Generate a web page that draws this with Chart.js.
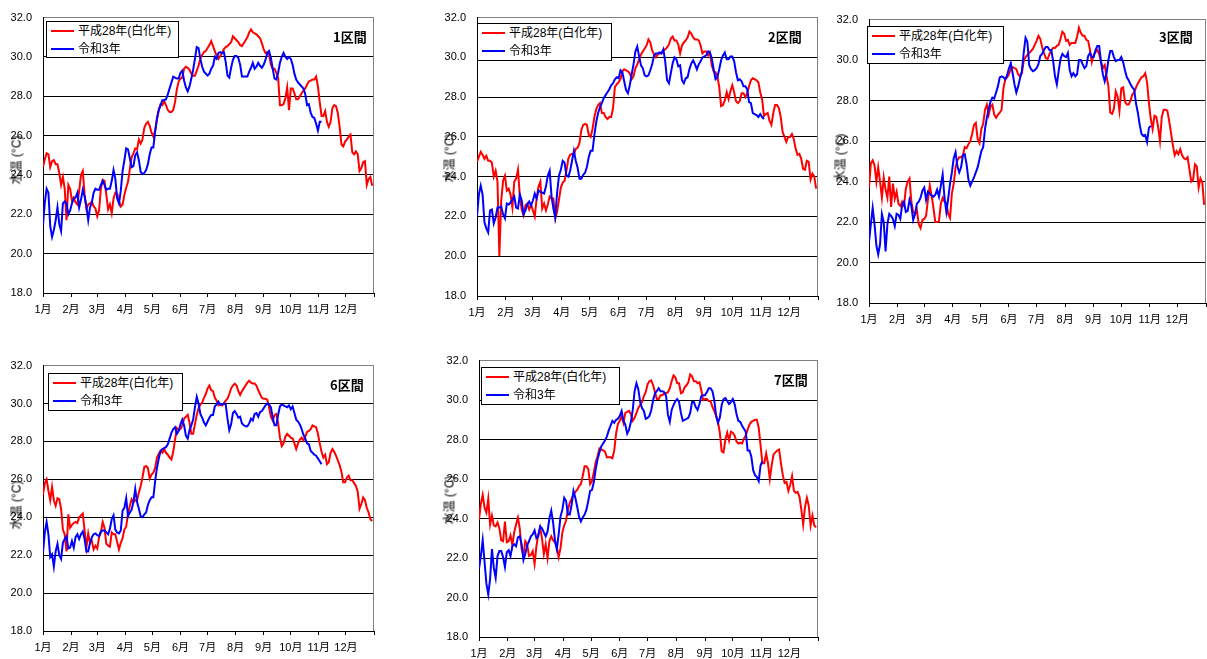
<!DOCTYPE html>
<html lang="ja">
<head>
<meta charset="utf-8">
<title>水温の推移（平成28年・令和3年）</title>
<script src="https://cdn.jsdelivr.net/npm/chart.js@4.4.1/dist/chart.umd.min.js"></script>
<style>
  html, body { margin: 0; padding: 0; background: #fff; width: 1207px; height: 659px; overflow: hidden; }
  canvas.panel { position: absolute; }
  .legend { position: absolute; box-sizing: border-box; border: 1px solid #000; background: #fff;
            font: 12px "Liberation Sans", "Noto Sans CJK JP", sans-serif; color: #000; }
  .legend .row { position: absolute; left: 0; right: 0; height: 14px; }
  .legend .swatch { position: absolute; left: 4px; width: 23px; height: 2px; top: 6px; }
  .legend .txt { position: absolute; left: 31px; top: 0; line-height: 14px; white-space: nowrap; }
  .sec-title { position: absolute; font: bold 13px "Noto Sans CJK JP", sans-serif; line-height: 13px; color: #000; white-space: nowrap; }
  .y-title { position: absolute; font: 12px "Liberation Sans", "Noto Sans CJK JP", sans-serif; color: #000;
             white-space: nowrap; transform: translate(-50%, -50%) rotate(-90deg); }
</style>
</head>
<body>
<script>
// Month axis (2016 is a leap year: day-of-year of each month start)
const monthLabels = ['1月', '2月', '3月', '4月', '5月', '6月', '7月', '8月', '9月', '10月', '11月', '12月', ''];
const monthStartDays = [0, 31, 60, 91, 121, 152, 182, 213, 244, 274, 305, 335, 366];
const yTickValues = [18, 20, 22, 24, 26, 28, 30, 32];
const seriesNames = ['平成28年(白化年)', '令和3年'];
const sectionNames = ['1区間', '2区間', '3区間', '6区間', '7区間'];
const yAxisTitle = '水温 (°C)';
// Daily water temperature, one value every 2 days starting 1 January
const sampleStepDays = 2;

const sec1H28 = [24.4, 24.8, 25.1, 25.05, 24.4, 24.7, 24.75, 24.55, 24.55, 24.1,
  23.5, 23.9, 23.3, 21.7, 23.5, 23.3, 22.7, 22.85, 22.6, 22.5,
  23.2, 24.0, 24.2, 23.0, 22.3, 22.5, 22.55, 22.65, 22.4, 22.3,
  21.9, 22.2, 23.3, 23.75, 23.7, 23.0, 22.25, 22.5, 22.05, 22.8,
  23.1, 23.05, 22.7, 22.4, 22.5, 23.0, 23.35, 23.65, 24.3, 24.9,
  25.1, 25.35, 25.3, 25.8, 25.6, 25.8, 26.4, 26.6, 26.7, 26.5,
  26.15, 25.95, 26.25, 26.8, 27.3, 27.6, 27.55, 27.75, 27.55, 27.3,
  27.2, 27.2, 27.3, 27.7, 28.35, 28.75, 28.9, 28.95, 29.4, 29.5,
  29.45, 29.35, 29.15, 29.05, 29.05, 29.3, 29.55, 29.9, 30.1, 30.25,
  30.3, 30.45, 30.6, 30.8,
  30.55, 30.3, 30.05, 29.9, 30.05, 30.2, 30.4, 30.5, 30.55, 30.65,
  30.75, 31.05, 30.95, 30.85, 30.75, 30.6, 30.55, 30.7, 30.85, 31.0,
  31.25, 31.4, 31.25, 31.2, 31.15, 31.05, 30.95, 30.7, 30.4, 30.2,
  30.25, 30.1, 29.6, 29.4, 29.4, 29.2, 28.95, 27.55, 27.55, 27.6,
  27.9, 28.45, 27.3, 28.4, 28.4, 28.15, 27.85, 27.85, 28.0, 28.15,
  28.3, 28.4, 28.6, 28.75, 28.8, 28.85, 28.85, 29.0, 28.5, 27.7,
  27.0, 27.0, 27.25, 26.7, 26.45, 26.7, 27.4, 27.55, 27.5, 27.15,
  26.45, 25.55, 25.45, 25.7, 25.8, 25.95, 26.05, 25.15, 25.05, 25.2,
  25.05, 24.2, 24.35, 24.65, 24.7, 23.5, 23.8, 23.9, 23.45];
const sec1R3 = [21.45, 22.6, 23.3, 23.1, 21.4, 20.85, 21.2, 21.7, 22.35, 21.5,
  21.15, 22.55, 22.65, 22.55, 22.0, 22.2, 22.55, 22.8, 22.85, 23.1,
  22.35, 22.75, 23.25, 22.9, 22.4, 21.7, 22.35, 22.6, 23.1, 23.3,
  23.25, 23.25, 23.5, 23.7, 23.5, 23.25, 23.3, 23.3, 23.7, 24.25,
  23.8, 22.8, 22.55, 23.2, 24.2, 24.75, 25.35, 25.3, 24.85, 24.4,
  24.45, 25.0, 25.15, 24.75, 24.15, 24.05, 24.1, 24.25, 24.55, 25.05,
  25.4, 25.4, 26.2, 26.9, 27.3, 27.55, 27.8, 27.8, 27.85, 28.1,
  28.4, 28.7, 29.0, 28.95, 28.9, 28.9, 29.2, 29.3, 28.8, 28.45,
  28.25, 28.5, 28.9, 29.35, 29.9, 30.5, 30.45, 29.9, 29.5, 29.25,
  29.15, 29.05, 29.15, 29.4,
  29.55, 30.0, 29.9, 30.2, 30.25, 30.2, 30.25, 29.75, 29.05, 28.95,
  29.45, 29.85, 30.05, 30.05, 29.95, 29.6, 29.0, 29.0, 29.0, 29.0,
  29.25, 29.45, 29.7, 29.4, 29.5, 29.7, 29.55, 29.45, 29.6, 29.85,
  30.2, 30.3, 29.95, 29.4, 28.9, 28.85, 29.2, 29.7, 30.0, 30.2,
  30.0, 29.9, 30.0, 29.9, 29.6, 29.15, 28.85, 28.7, 28.6, 28.5,
  28.4, 28.1, 27.55, 27.6, 27.15, 26.95, 26.9, 26.6, 26.25, 26.7,
  26.7];

const sec2H28 = [24.75, 25.0, 25.25, 25.1, 24.9, 25.05, 24.8, 24.8, 24.7, 24.0,
  24.3, 23.75, 20.0, 22.8, 23.8, 24.05, 23.3, 23.4, 23.1, 22.45,
  23.75, 23.9, 24.35, 23.0, 22.35, 22.05, 22.55, 22.65, 22.35, 22.6,
  22.3, 22.0, 22.9, 23.5, 23.75, 22.4, 22.65, 22.3, 22.6, 23.0,
  22.9, 22.9, 21.9, 22.25, 22.85, 23.45, 23.7, 23.8, 24.3, 24.9,
  25.1, 25.15, 25.1, 25.4, 25.45, 25.7, 26.35, 26.6, 26.65, 26.6,
  26.1, 26.0, 26.4, 27.0, 27.4, 27.6, 27.7, 27.2, 27.2, 27.0,
  26.9, 27.0, 27.0, 27.45, 28.5, 28.65, 28.75, 28.9, 29.3, 29.4,
  29.35, 29.3, 29.2, 28.9, 29.05, 29.45, 29.65, 29.9, 30.15, 30.3,
  30.45,
  30.6, 30.9, 30.75, 30.35, 30.15, 30.0, 30.15, 30.2, 30.2, 30.35,
  30.4, 30.5, 30.65, 30.95, 31.05, 30.85, 30.85, 30.65, 30.2, 30.6,
  30.75, 30.85, 31.0, 31.3, 31.2, 31.0, 30.9, 30.9, 30.85, 30.6,
  30.2, 30.3, 30.3, 30.1, 30.25, 29.6, 29.3, 29.25, 29.05, 28.5,
  27.55, 27.6, 27.85, 28.25, 27.9, 28.3, 28.6, 28.25, 27.8, 27.7,
  27.8, 28.2, 28.2, 28.0, 28.2, 28.55, 28.85, 28.95, 28.9, 28.85,
  28.75, 28.25, 27.9, 27.05, 27.15, 27.2, 26.8, 26.6, 27.2, 27.6,
  27.6, 27.45, 27.0, 26.25, 26.0, 25.75, 26.0, 26.0, 26.15, 25.9,
  25.4, 25.1, 25.15, 24.9, 24.4, 24.35, 24.8, 24.75, 23.85, 24.15,
  24.0, 23.4];
const sec2R3 = [22.0, 23.1, 23.55, 23.1, 21.7, 21.4, 21.2, 22.3, 22.35, 21.65,
  21.95, 22.45, 22.45, 22.5, 22.1, 21.9, 22.65, 22.6, 22.7, 22.85,
  23.0, 22.45, 22.4, 23.1, 22.8, 22.1, 22.3, 22.6, 22.75, 22.55,
  22.8, 23.15, 22.9, 23.3, 23.25, 23.2, 23.15, 23.5, 24.05, 24.3,
  23.0, 22.4, 21.95, 23.2, 24.05, 24.35, 24.8, 24.7, 24.05, 24.0,
  24.3, 24.8, 25.3, 24.8, 24.45, 23.9, 23.9, 24.1, 24.2, 24.5,
  25.0, 25.3, 25.3, 26.1, 26.75, 27.2, 27.5, 27.7, 27.95, 28.1,
  28.25, 28.4, 28.6, 28.7, 28.9, 29.0, 28.95, 29.35, 29.25, 28.8,
  28.35, 28.2, 28.6, 29.15, 29.65, 30.3, 30.55, 30.05, 29.6, 29.45,
  29.1, 29.05, 29.1, 29.35, 29.65, 30.1, 30.2, 30.2, 30.25, 30.2,
  30.4, 29.8, 28.85, 28.7, 29.2, 29.7, 30.0, 29.9, 29.55, 29.6,
  28.85, 28.7, 28.95, 29.0, 29.4, 29.7, 29.85, 29.65, 29.4, 29.65,
  29.8, 30.0, 30.05, 30.1, 30.3, 30.25, 29.95, 29.4, 28.9, 29.0,
  29.4, 29.85, 30.1, 30.25, 29.9, 29.9, 30.05, 30.05, 29.8, 29.25,
  28.85, 28.9, 28.8, 28.55, 28.55, 28.4, 27.75, 27.7, 27.2, 27.15,
  27.1, 27.0, 27.15, 27.0, 26.9];

const sec3H28 = [23.7, 24.9, 25.05, 24.8, 24.0, 24.7, 24.0, 23.2, 24.2, 23.6,
  23.2, 24.25, 22.75, 23.9, 23.15, 23.5, 22.9, 22.8, 23.0, 22.8,
  23.65, 24.0, 24.15, 23.0, 22.5, 22.4, 22.6, 21.9, 21.7, 22.1,
  22.15, 22.3, 23.1, 23.8, 23.3, 22.7, 22.0, 22.0, 22.05, 22.9,
  23.2, 23.0, 22.95, 22.4, 22.2, 23.4, 23.9, 24.7, 25.05, 25.2,
  25.2, 25.3, 25.7, 25.65, 25.85, 26.0, 26.35, 26.8, 26.9, 26.1,
  25.9, 26.6, 26.85, 27.55, 27.8, 27.3, 27.7, 27.8, 27.3, 27.15,
  27.3, 27.4, 27.55, 28.6, 29.05, 29.15, 29.3, 29.6, 29.65, 29.6,
  29.55, 29.3, 29.2, 29.35, 29.95, 30.15, 30.25,
  30.35, 30.45, 30.55, 30.75, 30.95, 31.2, 31.05, 30.65, 30.35, 30.1,
  30.05, 30.3, 30.5, 30.6, 30.6, 30.7, 30.75, 31.05, 31.4, 31.3,
  30.95, 31.0, 30.75, 30.85, 30.85, 30.85, 31.15, 31.6, 31.35, 31.2,
  31.2, 31.0, 30.95, 30.5, 29.9, 30.25, 30.4, 30.5, 30.3, 29.9,
  29.6, 29.75, 29.2, 28.7, 27.4, 27.35, 27.6, 28.45, 28.2, 27.5,
  28.6, 28.65, 27.95, 27.8, 27.8, 28.0, 28.3, 28.4, 28.65, 28.85,
  29.0, 29.15, 29.2, 29.35, 28.9, 27.9, 27.1, 26.6, 27.25, 27.2,
  26.7, 26.0, 27.2, 27.55, 27.55, 27.5, 27.0, 26.4, 25.8, 25.3,
  25.5, 25.35, 25.6, 25.3, 25.15, 25.1, 25.2, 24.6, 24.0, 24.1,
  24.85, 24.75, 23.7, 24.15, 23.95, 22.85];
const sec3R3 = [21.0, 21.9, 22.7, 21.9, 20.85, 20.4, 20.9, 22.4, 22.0, 20.55,
  21.9, 22.4, 22.3, 22.15, 21.8, 22.4, 22.35, 22.15, 22.85, 23.0,
  22.5, 22.55, 23.1, 22.8, 22.1, 22.4, 22.9, 23.0, 23.2, 23.55,
  23.7, 23.1, 23.5, 23.4, 23.3, 23.25, 23.35, 23.6, 23.25, 23.8,
  24.35, 23.2, 22.5, 23.15, 23.9, 24.45, 25.15, 25.45, 24.75, 24.45,
  24.7, 25.3, 25.35, 24.85, 24.1, 23.8, 24.0, 24.2, 24.45, 24.7,
  25.1, 25.5, 25.7, 26.6, 27.15, 27.6, 27.95, 28.15, 28.1, 28.4,
  28.7, 29.15, 29.2, 29.15, 29.05, 29.25, 29.6, 29.85, 29.35, 28.8,
  28.4, 28.7, 29.1, 29.45, 30.35, 31.1, 30.9,
  29.75, 29.55, 29.45, 29.5, 29.6, 29.8, 30.2, 30.3, 30.5, 30.65,
  30.65, 30.5, 30.5, 29.95, 29.2, 28.8, 29.45, 30.05, 30.3, 30.2,
  30.15, 30.35, 29.5, 29.2, 29.35, 29.2, 29.3, 30.0, 30.0, 29.8,
  29.6, 29.7, 30.2, 30.35, 30.15, 30.15, 30.5, 30.7, 30.7, 29.9,
  29.3, 28.95, 29.35, 30.0, 30.45, 30.45, 30.15, 29.95, 30.0, 30.0,
  30.15, 29.9, 29.5, 29.15, 29.0, 28.8, 28.65, 28.55, 27.85, 27.4,
  26.8, 26.35, 26.25, 26.3, 25.95, 26.65, 26.75];

const sec6H28 = [25.2, 25.8, 26.0, 25.4, 24.9, 25.6, 24.9, 24.6, 25.0, 24.95,
  24.45, 23.35, 23.1, 22.2, 24.15, 23.45, 23.6, 23.7, 23.75, 23.7,
  24.0, 24.1, 24.2, 23.3, 22.4, 23.15, 22.65, 22.75, 22.3, 22.5,
  22.35, 22.95, 23.2, 23.75, 23.45, 22.6, 22.5, 22.45, 23.2, 23.1,
  23.1, 22.7, 22.3, 22.65, 22.9, 23.35, 23.5, 24.2, 24.6, 24.95,
  24.8, 24.9, 24.9, 25.3, 25.65, 26.1, 26.65, 26.7, 26.6, 26.05,
  26.25, 26.35, 26.6, 27.15, 27.35, 27.5, 27.4, 27.6, 27.4, 27.3,
  27.15, 27.05, 27.45, 28.1, 28.7, 28.6, 28.65, 28.85, 29.2, 29.3,
  29.4, 29.0, 28.4, 28.4, 28.9, 29.4, 29.75, 29.95, 30.05, 30.3,
  30.5, 30.8, 30.95, 30.7,
  30.65, 30.3, 30.15, 29.9, 29.95, 29.9, 30.0, 30.15, 30.25, 30.5,
  30.8, 30.95, 31.05, 30.95, 30.65, 30.45, 30.65, 30.8, 30.95, 31.1,
  31.2, 31.1, 31.05, 31.05, 30.95, 30.7, 30.5, 30.3, 30.25, 30.25,
  30.2, 29.8, 29.3, 29.1, 29.4, 29.45, 28.95, 28.2, 27.75, 27.9,
  28.25, 28.4, 28.3, 28.2, 28.15, 27.9, 27.6, 27.9, 28.1, 28.2,
  28.05, 28.25, 28.5, 28.55, 28.65, 28.85, 28.8, 28.75, 28.4, 27.9,
  27.45, 27.15, 27.3, 26.8, 26.9, 27.4, 27.6, 27.45, 27.25, 27.0,
  26.75, 26.4, 25.85, 25.85, 26.1, 26.2, 25.95, 25.95, 25.8, 25.65,
  25.35, 24.45, 24.7, 25.05, 24.9, 24.5, 24.25, 23.9, 23.8];
const sec6R3 = [22.15, 23.2, 23.75, 23.1, 21.9, 22.05, 21.4, 22.2, 22.6, 22.0,
  21.8, 22.65, 22.85, 23.0, 22.35, 22.4, 22.75, 22.4, 22.95, 23.1,
  22.85, 23.1, 23.25, 22.85, 22.2, 22.2, 22.65, 22.95, 23.1, 23.15,
  23.05, 23.0, 23.25, 23.3, 23.3, 23.2, 23.1, 23.4, 23.9, 24.1,
  23.35, 23.2, 23.15, 23.3, 24.35, 24.5, 25.0, 24.05, 24.25, 24.4,
  24.8, 25.5, 24.8, 24.45, 24.05, 24.0, 24.15, 24.25, 24.65, 24.9,
  25.05, 25.05, 25.9, 26.6, 27.1, 27.5, 27.6, 27.65, 27.7, 27.85,
  28.15, 28.45, 28.65, 28.75, 28.4, 28.55, 28.9, 29.15, 28.85, 28.3,
  28.15, 28.6, 28.85, 29.15, 29.8, 30.35, 30.0, 29.45, 29.25, 29.0,
  28.85, 29.05, 29.25, 29.4,
  29.4, 29.85, 29.95, 30.1, 29.95, 29.95, 30.0, 29.95, 29.2, 28.6,
  28.9, 29.5, 29.6, 29.45, 29.25, 29.3, 28.95, 28.85, 28.8, 28.8,
  28.95, 29.2, 29.1, 29.45, 29.5, 29.3, 29.55, 29.6, 29.75, 29.9,
  30.0, 29.95, 29.8, 29.25, 28.85, 28.85, 29.4, 29.85, 29.95, 29.9,
  29.85, 29.8, 29.9, 29.7, 29.85, 29.5, 29.15, 29.05, 28.9, 28.65,
  28.35, 28.15, 27.9, 27.85, 27.5, 27.4, 27.3, 27.25, 27.1, 26.95,
  26.8];

const sec7H28 = [23.95, 24.75, 25.2, 24.55, 24.3, 25.0, 23.7, 24.15, 23.65, 23.6,
  23.8, 23.5, 22.9, 22.85, 23.85, 22.8, 22.85, 23.15, 22.65, 23.3,
  23.7, 24.05, 23.5, 22.45, 22.15, 22.85, 22.7, 22.1, 22.15, 22.35,
  21.7, 22.6, 23.2, 23.55, 23.0, 22.2, 22.7, 22.0, 22.85, 23.1,
  22.9, 22.8, 22.55, 22.05, 22.5, 23.3, 23.65, 23.9, 24.45, 24.8,
  25.0, 25.2, 25.35, 25.45, 25.65, 25.75, 26.15, 26.65, 26.65, 26.5,
  25.75, 25.9, 26.35, 26.85, 27.15, 27.55, 27.5, 27.45, 27.4, 27.1,
  27.1, 27.1, 27.05, 27.45, 28.3, 28.8, 28.95, 29.2, 28.85, 29.35,
  29.4, 29.45, 29.3, 28.95, 29.1, 29.35, 29.6, 29.75, 29.9, 30.2,
  30.4,
  30.8, 30.95, 31.0, 30.75, 30.4, 30.05, 30.05, 30.25, 30.25, 30.35,
  30.35, 30.4, 30.6, 30.95, 31.25, 31.15, 30.85, 30.85, 30.35, 30.4,
  30.65, 30.75, 30.9, 31.3, 31.2, 30.95, 30.95, 30.85, 30.9, 30.5,
  30.0, 30.05, 30.05, 29.95, 29.95, 29.65, 29.45, 29.2, 28.9, 28.35,
  27.4, 27.35, 28.0, 28.35, 27.95, 28.4, 28.35, 28.2, 27.9, 27.8,
  27.85, 27.8, 28.05, 28.2, 28.5, 28.75, 28.9, 28.95, 29.0, 29.0,
  28.6, 27.7, 26.8, 26.8, 27.3, 26.8, 26.0, 26.7, 27.25, 27.35,
  27.45, 27.5, 26.8, 26.2, 25.8, 25.85, 25.4, 25.7, 26.15, 25.4,
  25.3, 25.35, 25.1, 24.45, 23.7, 24.6, 25.05, 24.65, 23.65, 24.15,
  23.65, 23.55];
const sec7R3 = [21.45, 22.1, 22.9, 21.8, 20.7, 20.15, 20.95, 22.45, 21.5, 21.0,
  22.1, 22.35, 22.35, 22.05, 21.55, 22.3, 22.4, 22.1, 22.6, 22.7,
  22.6, 23.05, 23.1, 22.7, 21.9, 22.2, 22.65, 22.85, 23.1, 23.2,
  23.4, 23.0, 23.1, 23.6, 23.5, 23.3, 23.1, 23.35, 24.0, 24.4,
  23.8, 22.9, 22.45, 23.2, 24.1, 24.45, 25.05, 24.9, 24.2, 24.2,
  24.7, 25.4, 25.05, 24.6, 24.1, 23.85, 24.05, 24.2, 24.45, 24.9,
  25.4, 25.45, 25.85, 26.5, 27.0, 27.35, 27.65, 27.8, 27.95, 28.15,
  28.45, 28.7, 28.95, 28.85, 29.0, 29.05, 29.2, 29.45, 28.95, 28.75,
  28.3, 28.5, 28.9, 29.5, 30.45, 30.85, 30.55, 29.9, 29.6, 29.45,
  29.05, 29.1, 29.2, 29.5, 30.0, 30.35, 30.45, 30.6, 30.45, 30.45,
  30.4, 30.2, 29.25, 28.9, 29.5, 29.75, 29.95, 30.05, 29.9, 29.35,
  28.95, 29.0, 29.05, 29.1, 29.35, 29.9, 29.9, 29.65, 29.5, 29.8,
  30.2, 30.25, 30.25, 30.4, 30.6, 30.6, 30.45, 30.0, 29.2, 28.85,
  29.1, 29.75, 30.05, 30.1, 29.95, 29.8, 29.9, 30.05, 29.8, 29.3,
  28.95, 28.9, 28.7, 28.55, 28.4, 27.45, 27.45, 27.15, 26.45, 26.2,
  26.1, 25.9, 26.7, 26.9];

// Page layout of the five section charts
const panels = [
  { title: sectionNames[0], h28: sec1H28, r3: sec1R3,
    canvas: { left: 0, top: 0, width: 380, height: 318 }, pad: { top: 16, right: 3 },
    legend: { left: 46, top: 21, width: 133, height: 37 },
    label: { left: 333, top: 30 }, yTitle: { x: 15, y: 160 } },
  { title: sectionNames[1], h28: sec2H28, r3: sec2R3,
    canvas: { left: 434, top: 0, width: 390, height: 321 }, pad: { top: 16, right: 3 },
    legend: { left: 477, top: 23, width: 135, height: 38 },
    label: { left: 768, top: 30 }, yTitle: { x: 448, y: 158 } },
  { title: sectionNames[2], h28: sec3H28, r3: sec3R3,
    canvas: { left: 826, top: 2, width: 386, height: 326 }, pad: { top: 16, right: 4 },
    legend: { left: 867, top: 26, width: 137, height: 38 },
    label: { left: 1159, top: 30 }, yTitle: { x: 839, y: 158 } },
  { title: sectionNames[3], h28: sec6H28, r3: sec6R3,
    canvas: { left: 0, top: 348, width: 380, height: 308 }, pad: { top: 17, right: 3 },
    legend: { left: 48, top: 373, width: 135, height: 38 },
    label: { left: 330, top: 378 }, yTitle: { x: 15, y: 505 } },
  { title: sectionNames[4], h28: sec7H28, r3: sec7R3,
    canvas: { left: 436, top: 343, width: 388, height: 319 }, pad: { top: 16, right: 3 },
    legend: { left: 481, top: 367, width: 139, height: 38 },
    label: { left: 774, top: 373 }, yTitle: { x: 448, y: 500 } }
];

const seriesColors = ['#ff0000', '#0000ff'];
const tickFont = { family: '"Liberation Sans", "Noto Sans CJK JP", sans-serif', size: 11 };

// Grey frame line on the right edge of the plot area
const plotFrame = {
  id: 'plotFrame',
  beforeDatasetsDraw(chart) {
    const { ctx, chartArea: a } = chart;
    const x = Math.round(a.right) - 0.5;
    ctx.save();
    ctx.strokeStyle = '#808080';
    ctx.lineWidth = 1;
    ctx.beginPath();
    ctx.moveTo(x, a.top);
    ctx.lineTo(x, a.bottom);
    ctx.stroke();
    ctx.restore();
  }
};

function toPoints(values) {
  return values.map((v, i) => ({ x: i * sampleStepDays, y: v }));
}

function addBox(cls, css) {
  const el = document.createElement('div');
  el.className = cls;
  Object.assign(el.style, css);
  document.body.appendChild(el);
  return el;
}

panels.forEach(p => {
  const cv = document.createElement('canvas');
  cv.className = 'panel';
  cv.width = p.canvas.width;
  cv.height = p.canvas.height;
  Object.assign(cv.style, { left: p.canvas.left + 'px', top: p.canvas.top + 'px',
    width: p.canvas.width + 'px', height: p.canvas.height + 'px' });
  document.body.appendChild(cv);

  const chart = new Chart(cv.getContext('2d'), {
    type: 'line',
    data: {
      datasets: [
        { label: seriesNames[0], data: toPoints(p.h28), borderColor: seriesColors[0],
          borderWidth: 2, pointRadius: 0, tension: 0, order: 1 },
        { label: seriesNames[1], data: toPoints(p.r3), borderColor: seriesColors[1],
          borderWidth: 2, pointRadius: 0, tension: 0, order: 0 }
      ]
    },
    options: {
      responsive: false,
      animation: false,
      devicePixelRatio: 1,
      layout: { padding: { top: p.pad.top, right: p.pad.right, left: 0, bottom: 0 } },
      plugins: { legend: { display: false }, tooltip: { enabled: false } },
      scales: {
        x: {
          type: 'linear', min: 0, max: 366,
          afterBuildTicks: s => { s.ticks = monthStartDays.map(v => ({ value: v })); },
          afterFit: s => { s.height = 25; },
          ticks: { autoSkip: false, maxRotation: 0, padding: 6, color: '#000', font: tickFont,
                   callback: (v, i) => monthLabels[i] },
          grid: { drawOnChartArea: false, drawTicks: true, tickLength: 4, color: '#000', lineWidth: 1 },
          border: { color: '#000', width: 1 }
        },
        y: {
          min: 18, max: 32,
          afterBuildTicks: s => { s.ticks = yTickValues.map(v => ({ value: v })); },
          afterFit: s => { s.width = 43; },
          ticks: { padding: 11, color: '#000', font: tickFont, callback: v => Number(v).toFixed(1) },
          grid: { drawTicks: false, lineWidth: 1,
                  color: c => (c.tick && c.tick.value === 32 ? '#808080' : '#000') },
          border: { color: '#000', width: 1 }
        }
      }
    },
    plugins: [plotFrame]
  });

  // Legend box built from the chart's datasets
  const lg = addBox('legend', { left: p.legend.left + 'px', top: p.legend.top + 'px',
    width: p.legend.width + 'px', height: p.legend.height + 'px' });
  chart.data.datasets.forEach((ds, i) => {
    const row = document.createElement('div');
    row.className = 'row';
    row.style.top = (2 + i * 18) + 'px';
    const sw = document.createElement('div');
    sw.className = 'swatch';
    sw.style.background = ds.borderColor;
    const tx = document.createElement('div');
    tx.className = 'txt';
    tx.textContent = ds.label;
    row.appendChild(sw);
    row.appendChild(tx);
    lg.appendChild(row);
  });

  const t = addBox('sec-title', { left: p.label.left + 'px', top: p.label.top + 'px' });
  t.textContent = p.title;

  const yt = addBox('y-title', { left: p.yTitle.x + 'px', top: p.yTitle.y + 'px' });
  yt.textContent = yAxisTitle;
});
</script>
</body>
</html>
